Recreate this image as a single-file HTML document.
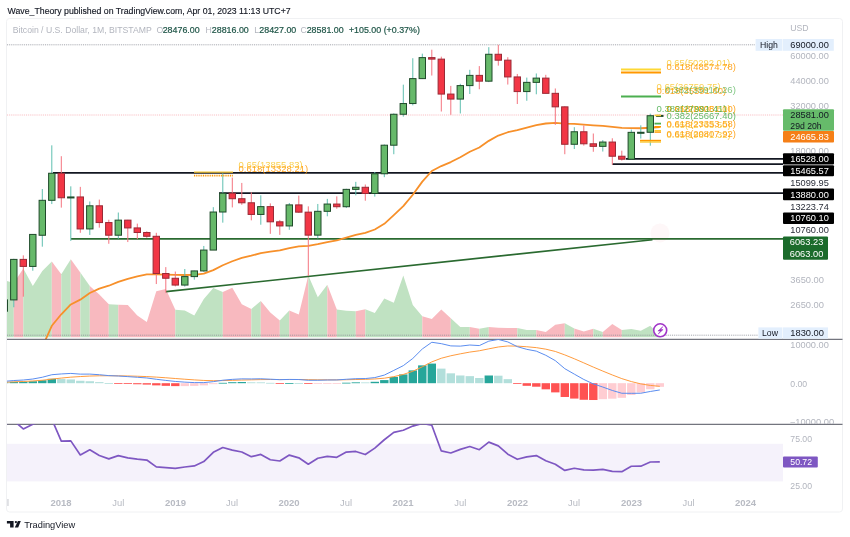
<!DOCTYPE html>
<html><head><meta charset="utf-8"><style>
html,body{margin:0;padding:0;background:#fff;width:850px;height:537px;overflow:hidden}
svg{display:block;will-change:transform}
</style></head><body>
<svg width="850" height="537" viewBox="0 0 850 537" font-family='"Liberation Sans", sans-serif'><rect x="6.5" y="18.5" width="836.0" height="493.5" fill="#fff" stroke="#f0f1f3" stroke-width="1" rx="3"/>
<defs><clipPath id="main"><rect x="7" y="18.5" width="776" height="320.8"/></clipPath><clipPath id="macd"><rect x="7" y="339.3" width="776" height="85.0"/></clipPath><clipPath id="rsi"><rect x="7" y="424.3" width="776" height="71.69999999999999"/></clipPath></defs>
<g clip-path="url(#main)">
<polygon points="4.30,337.3 4.30,280.2 13.80,283.0 13.80,337.3" fill="#c0e2c2"/>
<polygon points="13.80,337.3 13.80,283.0 23.30,268.4 23.30,337.3" fill="#f8b9bf"/>
<polygon points="23.30,337.3 23.30,268.4 32.80,286.0 42.30,271.0 51.80,261.4 51.80,337.3" fill="#c0e2c2"/>
<polygon points="51.80,337.3 51.80,261.4 61.30,274.3 61.30,337.3" fill="#f8b9bf"/>
<polygon points="61.30,337.3 61.30,274.3 70.80,259.2 70.80,337.3" fill="#c0e2c2"/>
<polygon points="70.80,337.3 70.80,259.2 80.30,272.6 80.30,337.3" fill="#f8b9bf"/>
<polygon points="80.30,337.3 80.30,272.6 89.80,286.0 89.80,337.3" fill="#c0e2c2"/>
<polygon points="89.80,337.3 89.80,286.0 99.30,294.4 108.80,304.3 108.80,337.3" fill="#f8b9bf"/>
<polygon points="108.80,337.3 108.80,304.3 118.30,304.8 118.30,337.3" fill="#c0e2c2"/>
<polygon points="118.30,337.3 118.30,304.8 127.80,305.1 137.30,315.4 146.80,321.9 156.30,291.2 165.80,289.0 175.30,309.8 175.30,337.3" fill="#f8b9bf"/>
<polygon points="175.30,337.3 175.30,309.8 184.80,310.4 194.30,315.4 203.80,299.0 213.30,288.0 222.80,292.1 222.80,337.3" fill="#c0e2c2"/>
<polygon points="222.80,337.3 222.80,292.1 232.30,287.8 241.80,304.2 251.30,308.9 251.30,337.3" fill="#f8b9bf"/>
<polygon points="251.30,337.3 251.30,308.9 260.80,301.0 260.80,337.3" fill="#c0e2c2"/>
<polygon points="260.80,337.3 260.80,301.0 270.30,312.6 279.80,320.4 279.80,337.3" fill="#f8b9bf"/>
<polygon points="279.80,337.3 279.80,320.4 289.30,310.4 289.30,337.3" fill="#c0e2c2"/>
<polygon points="289.30,337.3 289.30,310.4 298.80,314.4 308.30,275.4 308.30,337.3" fill="#f8b9bf"/>
<polygon points="308.30,337.3 308.30,275.4 317.80,297.3 327.30,284.7 327.30,337.3" fill="#c0e2c2"/>
<polygon points="327.30,337.3 327.30,284.7 336.80,309.4 336.80,337.3" fill="#f8b9bf"/>
<polygon points="336.80,337.3 336.80,309.4 346.30,310.7 355.80,311.3 355.80,337.3" fill="#c0e2c2"/>
<polygon points="355.80,337.3 355.80,311.3 365.30,309.2 365.30,337.3" fill="#f8b9bf"/>
<polygon points="365.30,337.3 365.30,309.2 374.80,313.0 384.30,298.6 393.80,302.7 403.30,275.4 412.80,305.1 422.30,316.3 422.30,337.3" fill="#c0e2c2"/>
<polygon points="422.30,337.3 422.30,316.3 431.80,319.1 441.30,309.4 450.80,318.2 450.80,337.3" fill="#f8b9bf"/>
<polygon points="450.80,337.3 450.80,318.2 460.30,326.9 469.80,326.9 469.80,337.3" fill="#c0e2c2"/>
<polygon points="469.80,337.3 469.80,326.9 479.30,328.8 479.30,337.3" fill="#f8b9bf"/>
<polygon points="479.30,337.3 479.30,328.8 488.80,326.9 488.80,337.3" fill="#c0e2c2"/>
<polygon points="488.80,337.3 488.80,326.9 498.30,327.8 507.80,328.0 517.30,328.0 517.30,337.3" fill="#f8b9bf"/>
<polygon points="517.30,337.3 517.30,328.0 526.80,330.0 536.30,330.0 536.30,337.3" fill="#c0e2c2"/>
<polygon points="536.30,337.3 536.30,330.0 545.80,332.1 555.30,324.7 564.80,323.2 564.80,337.3" fill="#f8b9bf"/>
<polygon points="564.80,337.3 564.80,323.2 574.30,328.4 574.30,337.3" fill="#c0e2c2"/>
<polygon points="574.30,337.3 574.30,328.4 583.80,331.6 593.30,328.8 593.30,337.3" fill="#f8b9bf"/>
<polygon points="593.30,337.3 593.30,328.8 602.80,332.1 602.80,337.3" fill="#c0e2c2"/>
<polygon points="602.80,337.3 602.80,332.1 612.30,324.0 621.80,330.0 621.80,337.3" fill="#f8b9bf"/>
<polygon points="621.80,337.3 621.80,330.0 631.30,329.1 640.80,330.7 650.30,325.7 659.80,336.0 659.80,337.3" fill="#c0e2c2"/>
</g>
<line x1="7" y1="335.2" x2="758" y2="335.2" stroke="#868993" stroke-width="1" stroke-dasharray="1,0.9" opacity="0.75"/>
<line x1="7" y1="44.8" x2="755" y2="44.8" stroke="#868993" stroke-width="1" stroke-dasharray="1,0.9" opacity="0.75"/>
<line x1="7" y1="44.8" x2="7" y2="44.8" stroke="none"/>
<line x1="7" y1="115" x2="783" y2="115" stroke="#f7a6ac" stroke-width="1" stroke-dasharray="1,0.9" opacity="0.75"/>
<line x1="53" y1="172.8" x2="783" y2="172.8" stroke="#131722" stroke-width="1.7"/>
<line x1="219" y1="193.2" x2="783" y2="193.2" stroke="#131722" stroke-width="1.7"/>
<line x1="626" y1="158.9" x2="783" y2="158.9" stroke="#131722" stroke-width="1.7"/>
<line x1="612.4" y1="164.2" x2="783" y2="164.2" stroke="#131722" stroke-width="1.7"/>
<line x1="71" y1="238.9" x2="783" y2="238.9" stroke="#2a6a30" stroke-width="1.7"/>
<line x1="166" y1="291.6" x2="652.5" y2="239.7" stroke="#2a6a30" stroke-width="1.6"/>
<g clip-path="url(#main)">
<polyline points="4.30,407.96 13.80,392.60 23.30,381.38 32.80,366.35 42.30,347.05 51.80,325.78 61.30,314.26 70.80,304.44 80.30,299.67 89.80,292.96 99.30,288.65 108.80,285.73 118.30,281.84 127.80,278.88 137.30,276.45 146.80,274.43 156.30,274.40 165.80,274.54 175.30,274.93 184.80,275.00 194.30,274.83 203.80,273.70 213.30,270.14 222.80,265.23 232.30,261.26 241.80,257.95 251.30,255.72 260.80,253.10 270.30,251.62 279.80,250.44 289.30,248.07 298.80,246.31 308.30,245.84 317.80,244.17 327.30,242.15 336.80,240.42 346.30,237.67 355.80,234.96 365.30,232.86 374.80,229.51 384.30,223.85 393.80,215.15 403.30,206.16 412.80,194.72 422.30,181.60 431.80,170.98 441.30,166.07 450.80,162.06 460.30,157.20 469.80,151.80 479.30,147.47 488.80,140.84 498.30,135.56 507.80,132.24 517.30,130.19 526.80,127.67 536.30,125.02 545.80,123.51 555.30,122.79 564.80,123.53 574.30,123.84 583.80,124.53 593.30,125.29 602.80,125.88 612.30,126.88 621.80,127.93 631.30,128.10 640.80,128.26 650.30,127.73 659.80,127.20" fill="none" stroke="#f7902a" stroke-width="1.8" stroke-linejoin="round"/>
</g>
<g clip-path="url(#main)">
<line x1="4.30" y1="298.12" x2="4.30" y2="335.55" stroke="#5fbfb0" stroke-width="1"/>
<rect x="1.10" y="299.89" width="6.4" height="11.31" fill="#66b96a" stroke="#1f4a2a" stroke-width="1"/>
<line x1="13.80" y1="258.77" x2="13.80" y2="307.26" stroke="#5fbfb0" stroke-width="1"/>
<rect x="10.60" y="259.40" width="6.4" height="40.50" fill="#66b96a" stroke="#1f4a2a" stroke-width="1"/>
<line x1="23.30" y1="255.36" x2="23.30" y2="296.70" stroke="#f4747f" stroke-width="1"/>
<rect x="20.10" y="259.40" width="6.4" height="7.01" fill="#f23645" stroke="#9a2a36" stroke-width="1"/>
<line x1="32.80" y1="234.39" x2="32.80" y2="270.74" stroke="#5fbfb0" stroke-width="1"/>
<rect x="29.60" y="234.42" width="6.4" height="32.00" fill="#66b96a" stroke="#1f4a2a" stroke-width="1"/>
<line x1="42.30" y1="189.02" x2="42.30" y2="246.68" stroke="#5fbfb0" stroke-width="1"/>
<rect x="39.10" y="200.32" width="6.4" height="34.94" fill="#66b96a" stroke="#1f4a2a" stroke-width="1"/>
<line x1="51.80" y1="145.34" x2="51.80" y2="204.05" stroke="#5fbfb0" stroke-width="1"/>
<rect x="48.60" y="173.25" width="6.4" height="27.07" fill="#66b96a" stroke="#1f4a2a" stroke-width="1"/>
<line x1="61.30" y1="156.19" x2="61.30" y2="207.64" stroke="#f4747f" stroke-width="1"/>
<rect x="58.10" y="173.25" width="6.4" height="24.51" fill="#f23645" stroke="#9a2a36" stroke-width="1"/>
<line x1="70.80" y1="186.34" x2="70.80" y2="240.86" stroke="#5fbfb0" stroke-width="1"/>
<rect x="67.60" y="196.95" width="6.4" height="1.00" fill="#66b96a" stroke="#1f4a2a" stroke-width="1"/>
<line x1="80.30" y1="186.87" x2="80.30" y2="232.80" stroke="#f4747f" stroke-width="1"/>
<rect x="77.10" y="196.95" width="6.4" height="32.00" fill="#f23645" stroke="#9a2a36" stroke-width="1"/>
<line x1="89.80" y1="201.47" x2="89.80" y2="234.95" stroke="#5fbfb0" stroke-width="1"/>
<rect x="86.60" y="205.80" width="6.4" height="23.14" fill="#66b96a" stroke="#1f4a2a" stroke-width="1"/>
<line x1="99.30" y1="199.60" x2="99.30" y2="227.67" stroke="#f4747f" stroke-width="1"/>
<rect x="96.10" y="205.80" width="6.4" height="16.76" fill="#f23645" stroke="#9a2a36" stroke-width="1"/>
<line x1="108.80" y1="219.73" x2="108.80" y2="243.77" stroke="#f4747f" stroke-width="1"/>
<rect x="105.60" y="222.56" width="6.4" height="12.65" fill="#f23645" stroke="#9a2a36" stroke-width="1"/>
<line x1="118.30" y1="212.53" x2="118.30" y2="238.72" stroke="#5fbfb0" stroke-width="1"/>
<rect x="115.10" y="220.14" width="6.4" height="15.07" fill="#66b96a" stroke="#1f4a2a" stroke-width="1"/>
<line x1="127.80" y1="219.83" x2="127.80" y2="242.05" stroke="#f4747f" stroke-width="1"/>
<rect x="124.60" y="220.14" width="6.4" height="7.79" fill="#f23645" stroke="#9a2a36" stroke-width="1"/>
<line x1="137.30" y1="223.63" x2="137.30" y2="239.11" stroke="#f4747f" stroke-width="1"/>
<rect x="134.10" y="227.92" width="6.4" height="4.57" fill="#f23645" stroke="#9a2a36" stroke-width="1"/>
<line x1="146.80" y1="231.35" x2="146.80" y2="237.81" stroke="#f4747f" stroke-width="1"/>
<rect x="143.60" y="232.49" width="6.4" height="3.80" fill="#f23645" stroke="#9a2a36" stroke-width="1"/>
<line x1="156.30" y1="232.80" x2="156.30" y2="284.06" stroke="#f4747f" stroke-width="1"/>
<rect x="153.10" y="236.30" width="6.4" height="37.22" fill="#f23645" stroke="#9a2a36" stroke-width="1"/>
<line x1="165.80" y1="267.12" x2="165.80" y2="292.76" stroke="#f4747f" stroke-width="1"/>
<rect x="162.60" y="273.51" width="6.4" height="4.74" fill="#f23645" stroke="#9a2a36" stroke-width="1"/>
<line x1="175.30" y1="271.54" x2="175.30" y2="286.40" stroke="#f4747f" stroke-width="1"/>
<rect x="172.10" y="278.25" width="6.4" height="6.81" fill="#f23645" stroke="#9a2a36" stroke-width="1"/>
<line x1="184.80" y1="269.00" x2="184.80" y2="286.59" stroke="#5fbfb0" stroke-width="1"/>
<rect x="181.60" y="276.60" width="6.4" height="8.46" fill="#66b96a" stroke="#1f4a2a" stroke-width="1"/>
<line x1="194.30" y1="270.64" x2="194.30" y2="279.65" stroke="#5fbfb0" stroke-width="1"/>
<rect x="191.10" y="270.93" width="6.4" height="5.67" fill="#66b96a" stroke="#1f4a2a" stroke-width="1"/>
<line x1="203.80" y1="245.96" x2="203.80" y2="271.91" stroke="#5fbfb0" stroke-width="1"/>
<rect x="200.60" y="250.07" width="6.4" height="20.86" fill="#66b96a" stroke="#1f4a2a" stroke-width="1"/>
<line x1="213.30" y1="207.16" x2="213.30" y2="249.92" stroke="#5fbfb0" stroke-width="1"/>
<rect x="210.10" y="212.02" width="6.4" height="38.05" fill="#66b96a" stroke="#1f4a2a" stroke-width="1"/>
<line x1="222.80" y1="173.25" x2="222.80" y2="222.67" stroke="#5fbfb0" stroke-width="1"/>
<rect x="219.60" y="193.20" width="6.4" height="18.81" fill="#66b96a" stroke="#1f4a2a" stroke-width="1"/>
<line x1="232.30" y1="177.58" x2="232.30" y2="207.42" stroke="#f4747f" stroke-width="1"/>
<rect x="229.10" y="193.20" width="6.4" height="5.52" fill="#f23645" stroke="#9a2a36" stroke-width="1"/>
<line x1="241.80" y1="182.93" x2="241.80" y2="204.81" stroke="#f4747f" stroke-width="1"/>
<rect x="238.60" y="198.72" width="6.4" height="4.07" fill="#f23645" stroke="#9a2a36" stroke-width="1"/>
<line x1="251.30" y1="192.25" x2="251.30" y2="220.35" stroke="#f4747f" stroke-width="1"/>
<rect x="248.10" y="202.78" width="6.4" height="11.66" fill="#f23645" stroke="#9a2a36" stroke-width="1"/>
<line x1="260.80" y1="195.30" x2="260.80" y2="224.72" stroke="#5fbfb0" stroke-width="1"/>
<rect x="257.60" y="206.63" width="6.4" height="7.81" fill="#66b96a" stroke="#1f4a2a" stroke-width="1"/>
<line x1="270.30" y1="203.37" x2="270.30" y2="233.84" stroke="#f4747f" stroke-width="1"/>
<rect x="267.10" y="206.63" width="6.4" height="15.18" fill="#f23645" stroke="#9a2a36" stroke-width="1"/>
<line x1="279.80" y1="219.93" x2="279.80" y2="234.89" stroke="#f4747f" stroke-width="1"/>
<rect x="276.60" y="221.81" width="6.4" height="4.13" fill="#f23645" stroke="#9a2a36" stroke-width="1"/>
<line x1="289.30" y1="202.99" x2="289.30" y2="229.82" stroke="#5fbfb0" stroke-width="1"/>
<rect x="286.10" y="204.90" width="6.4" height="21.04" fill="#66b96a" stroke="#1f4a2a" stroke-width="1"/>
<line x1="298.80" y1="195.61" x2="298.80" y2="212.91" stroke="#f4747f" stroke-width="1"/>
<rect x="295.60" y="204.90" width="6.4" height="7.26" fill="#f23645" stroke="#9a2a36" stroke-width="1"/>
<line x1="308.30" y1="206.37" x2="308.30" y2="275.97" stroke="#f4747f" stroke-width="1"/>
<rect x="305.10" y="212.16" width="6.4" height="22.98" fill="#f23645" stroke="#9a2a36" stroke-width="1"/>
<line x1="317.80" y1="203.96" x2="317.80" y2="238.45" stroke="#5fbfb0" stroke-width="1"/>
<rect x="314.60" y="211.32" width="6.4" height="23.82" fill="#66b96a" stroke="#1f4a2a" stroke-width="1"/>
<line x1="327.30" y1="198.88" x2="327.30" y2="216.29" stroke="#5fbfb0" stroke-width="1"/>
<rect x="324.10" y="204.05" width="6.4" height="7.27" fill="#66b96a" stroke="#1f4a2a" stroke-width="1"/>
<line x1="336.80" y1="196.37" x2="336.80" y2="208.76" stroke="#f4747f" stroke-width="1"/>
<rect x="333.60" y="204.05" width="6.4" height="2.67" fill="#f23645" stroke="#9a2a36" stroke-width="1"/>
<line x1="346.30" y1="188.74" x2="346.30" y2="208.04" stroke="#5fbfb0" stroke-width="1"/>
<rect x="343.10" y="189.37" width="6.4" height="17.35" fill="#66b96a" stroke="#1f4a2a" stroke-width="1"/>
<line x1="355.80" y1="181.83" x2="355.80" y2="195.38" stroke="#5fbfb0" stroke-width="1"/>
<rect x="352.60" y="187.28" width="6.4" height="2.09" fill="#66b96a" stroke="#1f4a2a" stroke-width="1"/>
<line x1="365.30" y1="184.51" x2="365.30" y2="200.73" stroke="#f4747f" stroke-width="1"/>
<rect x="362.10" y="187.28" width="6.4" height="6.22" fill="#f23645" stroke="#9a2a36" stroke-width="1"/>
<line x1="374.80" y1="171.99" x2="374.80" y2="196.60" stroke="#5fbfb0" stroke-width="1"/>
<rect x="371.60" y="173.77" width="6.4" height="19.72" fill="#66b96a" stroke="#1f4a2a" stroke-width="1"/>
<line x1="384.30" y1="144.48" x2="384.30" y2="177.16" stroke="#5fbfb0" stroke-width="1"/>
<rect x="381.10" y="145.20" width="6.4" height="28.57" fill="#66b96a" stroke="#1f4a2a" stroke-width="1"/>
<line x1="393.80" y1="113.41" x2="393.80" y2="154.23" stroke="#5fbfb0" stroke-width="1"/>
<rect x="390.60" y="114.26" width="6.4" height="30.95" fill="#66b96a" stroke="#1f4a2a" stroke-width="1"/>
<line x1="403.30" y1="84.66" x2="403.30" y2="116.67" stroke="#5fbfb0" stroke-width="1"/>
<rect x="400.10" y="103.54" width="6.4" height="10.72" fill="#66b96a" stroke="#1f4a2a" stroke-width="1"/>
<line x1="412.80" y1="58.23" x2="412.80" y2="105.40" stroke="#5fbfb0" stroke-width="1"/>
<rect x="409.60" y="78.61" width="6.4" height="24.93" fill="#66b96a" stroke="#1f4a2a" stroke-width="1"/>
<line x1="422.30" y1="53.65" x2="422.30" y2="79.04" stroke="#5fbfb0" stroke-width="1"/>
<rect x="419.10" y="57.61" width="6.4" height="21.00" fill="#66b96a" stroke="#1f4a2a" stroke-width="1"/>
<line x1="431.80" y1="49.71" x2="431.80" y2="75.56" stroke="#f4747f" stroke-width="1"/>
<rect x="428.60" y="57.61" width="6.4" height="1.51" fill="#f23645" stroke="#9a2a36" stroke-width="1"/>
<line x1="441.30" y1="56.67" x2="441.30" y2="111.52" stroke="#f4747f" stroke-width="1"/>
<rect x="438.10" y="59.13" width="6.4" height="34.94" fill="#f23645" stroke="#9a2a36" stroke-width="1"/>
<line x1="450.80" y1="85.91" x2="450.80" y2="114.79" stroke="#f4747f" stroke-width="1"/>
<rect x="447.60" y="94.07" width="6.4" height="5.01" fill="#f23645" stroke="#9a2a36" stroke-width="1"/>
<line x1="460.30" y1="83.81" x2="460.30" y2="113.46" stroke="#5fbfb0" stroke-width="1"/>
<rect x="457.10" y="85.60" width="6.4" height="13.48" fill="#66b96a" stroke="#1f4a2a" stroke-width="1"/>
<line x1="469.80" y1="69.80" x2="469.80" y2="94.01" stroke="#5fbfb0" stroke-width="1"/>
<rect x="466.60" y="75.38" width="6.4" height="10.22" fill="#66b96a" stroke="#1f4a2a" stroke-width="1"/>
<line x1="479.30" y1="66.08" x2="479.30" y2="89.28" stroke="#f4747f" stroke-width="1"/>
<rect x="476.10" y="75.38" width="6.4" height="5.78" fill="#f23645" stroke="#9a2a36" stroke-width="1"/>
<line x1="488.80" y1="47.16" x2="488.80" y2="82.12" stroke="#5fbfb0" stroke-width="1"/>
<rect x="485.60" y="54.28" width="6.4" height="26.89" fill="#66b96a" stroke="#1f4a2a" stroke-width="1"/>
<line x1="498.30" y1="44.80" x2="498.30" y2="65.63" stroke="#f4747f" stroke-width="1"/>
<rect x="495.10" y="54.28" width="6.4" height="5.90" fill="#f23645" stroke="#9a2a36" stroke-width="1"/>
<line x1="507.80" y1="57.21" x2="507.80" y2="84.56" stroke="#f4747f" stroke-width="1"/>
<rect x="504.60" y="60.17" width="6.4" height="16.76" fill="#f23645" stroke="#9a2a36" stroke-width="1"/>
<line x1="517.30" y1="73.94" x2="517.30" y2="104.00" stroke="#f4747f" stroke-width="1"/>
<rect x="514.10" y="76.93" width="6.4" height="14.65" fill="#f23645" stroke="#9a2a36" stroke-width="1"/>
<line x1="526.80" y1="77.59" x2="526.80" y2="100.79" stroke="#5fbfb0" stroke-width="1"/>
<rect x="523.60" y="82.36" width="6.4" height="9.21" fill="#66b96a" stroke="#1f4a2a" stroke-width="1"/>
<line x1="536.30" y1="73.47" x2="536.30" y2="94.29" stroke="#5fbfb0" stroke-width="1"/>
<rect x="533.10" y="78.12" width="6.4" height="4.25" fill="#66b96a" stroke="#1f4a2a" stroke-width="1"/>
<line x1="545.80" y1="74.81" x2="545.80" y2="93.22" stroke="#f4747f" stroke-width="1"/>
<rect x="542.60" y="78.12" width="6.4" height="15.23" fill="#f23645" stroke="#9a2a36" stroke-width="1"/>
<line x1="555.30" y1="88.47" x2="555.30" y2="124.85" stroke="#f4747f" stroke-width="1"/>
<rect x="552.10" y="93.34" width="6.4" height="13.50" fill="#f23645" stroke="#9a2a36" stroke-width="1"/>
<line x1="564.80" y1="106.35" x2="564.80" y2="154.23" stroke="#f4747f" stroke-width="1"/>
<rect x="561.60" y="106.85" width="6.4" height="37.43" fill="#f23645" stroke="#9a2a36" stroke-width="1"/>
<line x1="574.30" y1="127.18" x2="574.30" y2="149.04" stroke="#5fbfb0" stroke-width="1"/>
<rect x="571.10" y="131.76" width="6.4" height="12.51" fill="#66b96a" stroke="#1f4a2a" stroke-width="1"/>
<line x1="583.80" y1="125.48" x2="583.80" y2="145.61" stroke="#f4747f" stroke-width="1"/>
<rect x="580.60" y="131.76" width="6.4" height="12.03" fill="#f23645" stroke="#9a2a36" stroke-width="1"/>
<line x1="593.30" y1="133.50" x2="593.30" y2="151.77" stroke="#f4747f" stroke-width="1"/>
<rect x="590.10" y="143.79" width="6.4" height="2.56" fill="#f23645" stroke="#9a2a36" stroke-width="1"/>
<line x1="602.80" y1="140.12" x2="602.80" y2="151.55" stroke="#5fbfb0" stroke-width="1"/>
<rect x="599.60" y="142.05" width="6.4" height="4.30" fill="#66b96a" stroke="#1f4a2a" stroke-width="1"/>
<line x1="612.30" y1="138.28" x2="612.30" y2="164.62" stroke="#f4747f" stroke-width="1"/>
<rect x="609.10" y="142.05" width="6.4" height="14.18" fill="#f23645" stroke="#9a2a36" stroke-width="1"/>
<line x1="621.80" y1="150.67" x2="621.80" y2="160.58" stroke="#f4747f" stroke-width="1"/>
<rect x="618.60" y="156.24" width="6.4" height="2.97" fill="#f23645" stroke="#9a2a36" stroke-width="1"/>
<line x1="631.30" y1="129.56" x2="631.30" y2="159.40" stroke="#5fbfb0" stroke-width="1"/>
<rect x="628.10" y="132.35" width="6.4" height="26.86" fill="#66b96a" stroke="#1f4a2a" stroke-width="1"/>
<line x1="640.80" y1="125.32" x2="640.80" y2="138.57" stroke="#5fbfb0" stroke-width="1"/>
<rect x="637.60" y="132.28" width="6.4" height="1.00" fill="#66b96a" stroke="#1f4a2a" stroke-width="1"/>
<line x1="650.30" y1="113.68" x2="650.30" y2="145.73" stroke="#5fbfb0" stroke-width="1"/>
<rect x="647.10" y="115.71" width="6.4" height="16.57" fill="#66b96a" stroke="#1f4a2a" stroke-width="1"/>
<line x1="659.80" y1="114.74" x2="659.80" y2="115.83" stroke="#5fbfb0" stroke-width="1"/>
<rect x="656.60" y="115.40" width="6.4" height="1.00" fill="#66b96a" stroke="#1f4a2a" stroke-width="1"/>
</g>
<line x1="194" y1="172.1" x2="233" y2="172.1" stroke="#f9c934" stroke-width="1.2"/>
<line x1="194" y1="175.6" x2="233" y2="175.6" stroke="#ff9800" stroke-width="1.6" stroke-dasharray="1,0.8"/>
<text x="238.50" y="167.60" font-size="9.3" fill="#f9c934" text-anchor="start" font-weight="normal" textLength="64.2" lengthAdjust="spacingAndGlyphs" opacity="0.85">0.65(13855.83)</text>
<text x="238.50" y="172.20" font-size="9.3" fill="#ff9800" text-anchor="start" font-weight="normal" textLength="69.7" lengthAdjust="spacingAndGlyphs" opacity="0.85">0.618(13328.21)</text>
<line x1="621" y1="69.5" x2="661" y2="69.5" stroke="#fdd835" stroke-width="2"/>
<line x1="621" y1="72.6" x2="661" y2="72.6" stroke="#ff9800" stroke-width="2"/>
<text x="666.50" y="65.60" font-size="9.3" fill="#f9c934" text-anchor="start" font-weight="normal" textLength="63.7" lengthAdjust="spacingAndGlyphs" opacity="0.85">0.65(50292.01)</text>
<text x="666.50" y="69.70" font-size="9.3" fill="#ff9800" text-anchor="start" font-weight="normal" textLength="69.4" lengthAdjust="spacingAndGlyphs" opacity="0.85">0.618(48574.78)</text>
<line x1="621" y1="96.5" x2="661" y2="96.5" stroke="#4caf50" stroke-width="2"/>
<text x="656.50" y="89.80" font-size="9.3" fill="#f9c934" text-anchor="start" font-weight="normal" textLength="64.2" lengthAdjust="spacingAndGlyphs" opacity="0.85">0.65(36759.75)</text>
<text x="656.50" y="93.80" font-size="9.3" fill="#ff9800" text-anchor="start" font-weight="normal" textLength="69.7" lengthAdjust="spacingAndGlyphs" opacity="0.85">0.618(35591.60)</text>
<text x="665.30" y="93.30" font-size="9.3" fill="#4caf50" text-anchor="start" font-weight="normal" textLength="70.60000000000001" lengthAdjust="spacingAndGlyphs" opacity="0.7">0.382(35910.26)</text>
<text x="666.50" y="112.40" font-size="9.3" fill="#f9c934" text-anchor="start" font-weight="normal" textLength="64.2" lengthAdjust="spacingAndGlyphs" opacity="0.85">0.65(28325.50)</text>
<text x="666.50" y="112.40" font-size="9.3" fill="#ff9800" text-anchor="start" font-weight="normal" textLength="69.4" lengthAdjust="spacingAndGlyphs" opacity="0.85">0.618(28081.10)</text>
<text x="656.50" y="112.40" font-size="9.3" fill="#4caf50" text-anchor="start" font-weight="normal" textLength="70.0" lengthAdjust="spacingAndGlyphs" opacity="0.85">0.382(27991.41)</text>
<text x="666.50" y="119.40" font-size="9.3" fill="#4caf50" text-anchor="start" font-weight="normal" textLength="69.4" lengthAdjust="spacingAndGlyphs" opacity="0.85">0.382(25667.40)</text>
<text x="666.50" y="128.20" font-size="9.3" fill="#f9c934" text-anchor="start" font-weight="normal" textLength="64.2" lengthAdjust="spacingAndGlyphs" opacity="0.85">0.65(22763.50)</text>
<text x="666.50" y="127.30" font-size="9.3" fill="#ff9800" text-anchor="start" font-weight="normal" textLength="69.4" lengthAdjust="spacingAndGlyphs" opacity="0.85">0.618(23353.58)</text>
<text x="666.50" y="138.20" font-size="9.3" fill="#f9c934" text-anchor="start" font-weight="normal" textLength="64.2" lengthAdjust="spacingAndGlyphs" opacity="0.85">0.65(19841.32)</text>
<text x="666.50" y="136.50" font-size="9.3" fill="#ff9800" text-anchor="start" font-weight="normal" textLength="69.4" lengthAdjust="spacingAndGlyphs" opacity="0.85">0.618(20807.92)</text>
<line x1="654.5" y1="115.4" x2="661" y2="115.4" stroke="#f9c934" stroke-width="1.6"/>
<line x1="654.5" y1="123.6" x2="661" y2="123.6" stroke="#4caf50" stroke-width="1.8"/>
<line x1="654.5" y1="126.8" x2="661" y2="126.8" stroke="#ff9800" stroke-width="1.6"/>
<line x1="654.5" y1="130.8" x2="661" y2="130.8" stroke="#f9c934" stroke-width="1.6"/>
<line x1="654.5" y1="132.2" x2="661" y2="132.2" stroke="#ff9800" stroke-width="1.2"/>
<line x1="640" y1="140.6" x2="661" y2="140.6" stroke="#ff9800" stroke-width="1.6"/>
<line x1="640" y1="142.0" x2="661" y2="142.0" stroke="#f9c934" stroke-width="1.4"/>
<circle cx="660" cy="232.9" r="9.5" fill="#f23645" opacity="0.04"/>
<circle cx="660.2" cy="330.3" r="6.5" fill="#fff" stroke="#a136c8" stroke-width="1.6"/>
<path d="M662.9,326.6 L657.9,331.0 L660.5,331.0 L658.2,334.1 L663.1,329.6 L660.6,329.6 Z" fill="#9a2fc4" stroke="#9a2fc4" stroke-width="0.5" stroke-linejoin="round"/>
<line x1="7" y1="339.3" x2="842.5" y2="339.3" stroke="#50535e" stroke-width="1"/>
<line x1="7" y1="424.3" x2="842.5" y2="424.3" stroke="#50535e" stroke-width="1"/>
<g clip-path="url(#macd)">
<rect x="0.10" y="382.37" width="8.4" height="0.83" fill="#26a69a"/>
<rect x="9.60" y="381.88" width="8.4" height="1.32" fill="#26a69a"/>
<rect x="19.10" y="381.74" width="8.4" height="1.46" fill="#26a69a"/>
<rect x="28.60" y="381.24" width="8.4" height="1.96" fill="#26a69a"/>
<rect x="38.10" y="380.21" width="8.4" height="2.99" fill="#26a69a"/>
<rect x="47.60" y="378.78" width="8.4" height="4.42" fill="#26a69a"/>
<rect x="57.10" y="379.05" width="8.4" height="4.15" fill="#b2dfdb"/>
<rect x="66.60" y="379.45" width="8.4" height="3.75" fill="#b2dfdb"/>
<rect x="76.10" y="380.78" width="8.4" height="2.42" fill="#b2dfdb"/>
<rect x="85.60" y="381.24" width="8.4" height="1.96" fill="#b2dfdb"/>
<rect x="95.10" y="382.12" width="8.4" height="1.08" fill="#b2dfdb"/>
<rect x="104.60" y="383.06" width="8.4" height="0.80" fill="#b2dfdb"/>
<rect x="114.10" y="383.20" width="8.4" height="0.80" fill="#ff5252"/>
<rect x="123.60" y="383.20" width="8.4" height="0.80" fill="#ff5252"/>
<rect x="133.10" y="383.20" width="8.4" height="1.05" fill="#ff5252"/>
<rect x="142.60" y="383.20" width="8.4" height="1.39" fill="#ff5252"/>
<rect x="152.10" y="383.20" width="8.4" height="2.16" fill="#ff5252"/>
<rect x="161.60" y="383.20" width="8.4" height="2.64" fill="#ff5252"/>
<rect x="171.10" y="383.20" width="8.4" height="2.92" fill="#ff5252"/>
<rect x="180.60" y="383.20" width="8.4" height="2.90" fill="#ffcdd2"/>
<rect x="190.10" y="383.20" width="8.4" height="2.70" fill="#ffcdd2"/>
<rect x="199.60" y="383.20" width="8.4" height="2.17" fill="#ffcdd2"/>
<rect x="209.10" y="383.20" width="8.4" height="0.96" fill="#ffcdd2"/>
<rect x="218.60" y="382.83" width="8.4" height="0.80" fill="#26a69a"/>
<rect x="228.10" y="382.21" width="8.4" height="0.99" fill="#26a69a"/>
<rect x="237.60" y="382.02" width="8.4" height="1.18" fill="#26a69a"/>
<rect x="247.10" y="382.31" width="8.4" height="0.89" fill="#b2dfdb"/>
<rect x="256.60" y="382.36" width="8.4" height="0.84" fill="#b2dfdb"/>
<rect x="266.10" y="382.85" width="8.4" height="0.80" fill="#b2dfdb"/>
<rect x="275.60" y="383.20" width="8.4" height="0.80" fill="#ff5252"/>
<rect x="285.10" y="383.09" width="8.4" height="0.80" fill="#26a69a"/>
<rect x="294.60" y="383.20" width="8.4" height="0.80" fill="#b2dfdb"/>
<rect x="304.10" y="383.20" width="8.4" height="0.80" fill="#ff5252"/>
<rect x="313.60" y="383.20" width="8.4" height="0.80" fill="#ffcdd2"/>
<rect x="323.10" y="383.20" width="8.4" height="0.80" fill="#ffcdd2"/>
<rect x="332.60" y="383.20" width="8.4" height="0.80" fill="#ffcdd2"/>
<rect x="342.10" y="382.72" width="8.4" height="0.80" fill="#26a69a"/>
<rect x="351.60" y="382.35" width="8.4" height="0.85" fill="#26a69a"/>
<rect x="361.10" y="382.41" width="8.4" height="0.80" fill="#b2dfdb"/>
<rect x="370.60" y="381.79" width="8.4" height="1.41" fill="#26a69a"/>
<rect x="380.10" y="380.09" width="8.4" height="3.11" fill="#26a69a"/>
<rect x="389.60" y="376.97" width="8.4" height="6.23" fill="#26a69a"/>
<rect x="399.10" y="374.40" width="8.4" height="8.80" fill="#26a69a"/>
<rect x="408.60" y="370.39" width="8.4" height="12.81" fill="#26a69a"/>
<rect x="418.10" y="365.38" width="8.4" height="17.82" fill="#26a69a"/>
<rect x="427.60" y="363.58" width="8.4" height="19.62" fill="#26a69a"/>
<rect x="437.10" y="368.63" width="8.4" height="14.57" fill="#b2dfdb"/>
<rect x="446.60" y="373.33" width="8.4" height="9.87" fill="#b2dfdb"/>
<rect x="456.10" y="375.48" width="8.4" height="7.72" fill="#b2dfdb"/>
<rect x="465.60" y="376.14" width="8.4" height="7.06" fill="#b2dfdb"/>
<rect x="475.10" y="378.00" width="8.4" height="5.20" fill="#b2dfdb"/>
<rect x="484.60" y="375.50" width="8.4" height="7.70" fill="#26a69a"/>
<rect x="494.10" y="375.70" width="8.4" height="7.50" fill="#b2dfdb"/>
<rect x="503.60" y="379.16" width="8.4" height="4.04" fill="#b2dfdb"/>
<rect x="513.10" y="383.20" width="8.4" height="0.80" fill="#ff5252"/>
<rect x="522.60" y="383.20" width="8.4" height="2.60" fill="#ff5252"/>
<rect x="532.10" y="383.20" width="8.4" height="3.51" fill="#ff5252"/>
<rect x="541.60" y="383.20" width="8.4" height="6.13" fill="#ff5252"/>
<rect x="551.10" y="383.20" width="8.4" height="9.18" fill="#ff5252"/>
<rect x="560.60" y="383.20" width="8.4" height="13.78" fill="#ff5252"/>
<rect x="570.10" y="383.20" width="8.4" height="15.38" fill="#ff5252"/>
<rect x="579.60" y="383.20" width="8.4" height="16.58" fill="#ff5252"/>
<rect x="589.10" y="383.20" width="8.4" height="16.81" fill="#ff5252"/>
<rect x="598.60" y="383.20" width="8.4" height="15.96" fill="#ffcdd2"/>
<rect x="608.10" y="383.20" width="8.4" height="15.50" fill="#ffcdd2"/>
<rect x="617.60" y="383.20" width="8.4" height="14.63" fill="#ffcdd2"/>
<rect x="627.10" y="383.20" width="8.4" height="11.76" fill="#ffcdd2"/>
<rect x="636.60" y="383.20" width="8.4" height="9.36" fill="#ffcdd2"/>
<rect x="646.10" y="383.20" width="8.4" height="6.06" fill="#ffcdd2"/>
<rect x="655.60" y="383.20" width="8.4" height="3.63" fill="#ffcdd2"/>
<polyline points="4.30,382.17 13.80,381.84 23.30,381.47 32.80,380.98 42.30,380.24 51.80,379.13 61.30,378.09 70.80,377.16 80.30,376.55 89.80,376.06 99.30,375.79 108.80,375.75 118.30,375.80 127.80,375.97 137.30,376.23 146.80,376.58 156.30,377.11 165.80,377.77 175.30,378.50 184.80,379.23 194.30,379.90 203.80,380.45 213.30,380.69 222.80,380.59 232.30,380.35 241.80,380.05 251.30,379.83 260.80,379.62 270.30,379.53 279.80,379.56 289.30,379.53 298.80,379.53 308.30,379.68 317.80,379.80 327.30,379.84 336.80,379.86 346.30,379.74 355.80,379.53 365.30,379.33 374.80,378.98 384.30,378.20 393.80,376.65 403.30,374.45 412.80,371.25 422.30,366.79 431.80,361.88 441.30,358.24 450.80,355.77 460.30,353.84 469.80,352.08 479.30,350.78 488.80,348.85 498.30,346.98 507.80,345.97 517.30,346.11 526.80,346.75 536.30,347.63 545.80,349.16 555.30,351.46 564.80,354.90 574.30,358.75 583.80,362.89 593.30,367.09 602.80,371.08 612.30,374.96 621.80,378.62 631.30,381.56 640.80,383.90 650.30,385.41 659.80,386.32" fill="none" stroke="#ff9b3e" stroke-width="1"/>
<polyline points="4.30,381.34 13.80,380.52 23.30,380.02 32.80,379.02 42.30,377.25 51.80,374.72 61.30,373.94 70.80,373.41 80.30,374.13 89.80,374.10 99.30,374.71 108.80,375.61 118.30,376.00 127.80,376.61 137.30,377.28 146.80,377.96 156.30,379.27 165.80,380.41 175.30,381.43 184.80,382.13 194.30,382.60 203.80,382.61 213.30,381.65 222.80,380.22 232.30,379.36 241.80,378.87 251.30,378.94 260.80,378.78 270.30,379.19 279.80,379.67 289.30,379.43 298.80,379.53 308.30,380.29 317.80,380.25 327.30,380.01 336.80,379.95 346.30,379.27 355.80,378.69 365.30,378.55 374.80,377.58 384.30,375.09 393.80,370.42 403.30,365.65 412.80,358.44 422.30,348.97 431.80,342.27 441.30,343.67 450.80,345.90 460.30,346.13 469.80,345.02 479.30,345.58 488.80,341.15 498.30,339.48 507.80,341.93 517.30,346.65 526.80,349.35 536.30,351.14 545.80,355.29 555.30,360.64 564.80,368.68 574.30,374.12 583.80,379.48 593.30,383.90 602.80,387.04 612.30,390.46 621.80,393.25 631.30,393.32 640.80,393.26 650.30,391.48 659.80,389.96" fill="none" stroke="#5b8def" stroke-width="1"/>
</g>
<rect x="7" y="443.80" width="776" height="37.60" fill="#f5f2fb"/>
<g clip-path="url(#rsi)">
<polyline points="4.30,424.86 13.80,420.66 23.30,428.97 32.80,424.29 42.30,421.00 51.80,419.27 61.30,441.04 70.80,440.86 80.30,454.95 89.80,449.80 99.30,455.53 108.80,458.83 118.30,455.65 127.80,457.86 137.30,459.07 146.80,460.06 156.30,466.92 165.80,467.53 175.30,468.38 184.80,466.98 194.30,465.93 203.80,461.52 213.30,452.33 222.80,447.51 232.30,450.18 241.80,452.03 251.30,456.65 260.80,454.45 270.30,459.78 279.80,461.00 289.30,455.09 298.80,457.81 308.30,464.22 317.80,458.29 327.30,456.32 336.80,457.30 346.30,452.12 355.80,451.47 365.30,454.54 374.80,448.13 384.30,439.74 393.80,432.40 403.30,430.26 412.80,426.07 422.30,423.38 431.80,425.27 441.30,450.95 450.80,453.01 460.30,449.39 469.80,446.55 479.30,449.70 488.80,442.10 498.30,445.90 507.80,454.21 517.30,459.28 526.80,456.81 536.30,455.59 545.80,460.81 555.30,464.30 564.80,470.44 574.30,468.26 583.80,469.90 593.30,470.22 602.80,469.42 612.30,471.31 621.80,471.67 631.30,466.23 640.80,466.22 650.30,462.00 659.80,461.92" fill="none" stroke="#7e57c2" stroke-width="1.7" stroke-linejoin="round"/>
</g>
<text x="7.60" y="13.80" font-size="8.9" fill="#131722" text-anchor="start" font-weight="normal" textLength="283" lengthAdjust="spacingAndGlyphs" stroke="#131722" stroke-width="0.15">Wave_Theory published on TradingView.com, Apr 01, 2023 11:13 UTC+7</text>
<text x="12.70" y="33.00" font-size="8.7" fill="#b2b5be" text-anchor="start" font-weight="normal" textLength="139" lengthAdjust="spacingAndGlyphs" >Bitcoin / U.S. Dollar, 1M, BITSTAMP</text>
<text x="156.40" y="33.00" font-size="8.7" fill="#b2b5be" text-anchor="start" font-weight="normal" >O</text>
<text x="162.70" y="33.00" font-size="9.0" fill="#1d5446" text-anchor="start" font-weight="normal" textLength="37" lengthAdjust="spacingAndGlyphs" stroke="#1d5446" stroke-width="0.2">28476.00</text>
<text x="205.50" y="33.00" font-size="8.7" fill="#b2b5be" text-anchor="start" font-weight="normal" >H</text>
<text x="211.80" y="33.00" font-size="9.0" fill="#1d5446" text-anchor="start" font-weight="normal" textLength="37" lengthAdjust="spacingAndGlyphs" stroke="#1d5446" stroke-width="0.2">28816.00</text>
<text x="254.30" y="33.00" font-size="8.7" fill="#b2b5be" text-anchor="start" font-weight="normal" >L</text>
<text x="259.30" y="33.00" font-size="9.0" fill="#1d5446" text-anchor="start" font-weight="normal" textLength="37" lengthAdjust="spacingAndGlyphs" stroke="#1d5446" stroke-width="0.2">28427.00</text>
<text x="300.40" y="33.00" font-size="8.7" fill="#b2b5be" text-anchor="start" font-weight="normal" >C</text>
<text x="306.70" y="33.00" font-size="9.0" fill="#1d5446" text-anchor="start" font-weight="normal" textLength="37" lengthAdjust="spacingAndGlyphs" stroke="#1d5446" stroke-width="0.2">28581.00</text>
<text x="348.90" y="33.00" font-size="9.0" fill="#1d5446" text-anchor="start" font-weight="normal" textLength="71" lengthAdjust="spacingAndGlyphs" stroke="#1d5446" stroke-width="0.2">+105.00 (+0.37%)</text>
<text x="790.30" y="31.30" font-size="8.7" fill="#b2b5be" text-anchor="start" font-weight="normal" >USD</text>
<rect x="755.6" y="39" width="26.5" height="11.8" fill="#e3effd"/>
<rect x="782.6" y="39" width="51.2" height="11.8" fill="#e3effd"/>
<text x="760.00" y="48.10" font-size="8.7" fill="#131722" text-anchor="start" font-weight="normal" >High</text>
<text x="790.30" y="48.10" font-size="8.7" fill="#131722" text-anchor="start" font-weight="normal" textLength="38.5" lengthAdjust="spacingAndGlyphs" >69000.00</text>
<text x="790.30" y="59.10" font-size="8.7" fill="#b2b5be" text-anchor="start" font-weight="normal" textLength="38.5" lengthAdjust="spacingAndGlyphs" >60000.00</text>
<text x="790.30" y="83.90" font-size="8.7" fill="#b2b5be" text-anchor="start" font-weight="normal" textLength="38.5" lengthAdjust="spacingAndGlyphs" >44000.00</text>
<text x="790.30" y="108.90" font-size="8.7" fill="#b2b5be" text-anchor="start" font-weight="normal" textLength="38.5" lengthAdjust="spacingAndGlyphs" >32000.00</text>
<text x="790.30" y="282.70" font-size="8.7" fill="#b2b5be" text-anchor="start" font-weight="normal" textLength="33.7" lengthAdjust="spacingAndGlyphs" >3650.00</text>
<text x="790.30" y="308.10" font-size="8.7" fill="#b2b5be" text-anchor="start" font-weight="normal" textLength="33.7" lengthAdjust="spacingAndGlyphs" >2650.00</text>
<text x="790.30" y="154.10" font-size="8.7" fill="#b2b5be" text-anchor="start" font-weight="normal" textLength="38.5" lengthAdjust="spacingAndGlyphs" >18000.00</text>
<rect x="783" y="109.2" width="51" height="21.5" fill="#66bb6a" rx="1"/>
<text x="790.30" y="118.20" font-size="8.7" fill="#131722" text-anchor="start" font-weight="normal" textLength="38.5" lengthAdjust="spacingAndGlyphs" >28581.00</text>
<text x="790.30" y="128.80" font-size="8.7" fill="#131722" text-anchor="start" font-weight="normal" >29d 20h</text>
<rect x="783" y="131.1" width="51" height="11.5" fill="#f57f17" rx="1"/>
<text x="790.30" y="140.00" font-size="8.7" fill="#ffffff" text-anchor="start" font-weight="normal" textLength="38.5" lengthAdjust="spacingAndGlyphs" >24665.83</text>
<rect x="783" y="153.3" width="51" height="11.2" fill="#000" rx="1"/>
<text x="790.30" y="162.00" font-size="8.7" fill="#fff" text-anchor="start" font-weight="normal" textLength="38.5" lengthAdjust="spacingAndGlyphs" >16528.00</text>
<rect x="783" y="165.2" width="51" height="11.0" fill="#000" rx="1"/>
<text x="790.30" y="173.80" font-size="8.7" fill="#fff" text-anchor="start" font-weight="normal" textLength="38.5" lengthAdjust="spacingAndGlyphs" >15465.57</text>
<rect x="783" y="188.6" width="51" height="11.7" fill="#000" rx="1"/>
<text x="790.30" y="197.55" font-size="8.7" fill="#fff" text-anchor="start" font-weight="normal" textLength="38.5" lengthAdjust="spacingAndGlyphs" >13880.00</text>
<rect x="783" y="212.4" width="51" height="11.6" fill="#000" rx="1"/>
<text x="790.30" y="221.30" font-size="8.7" fill="#fff" text-anchor="start" font-weight="normal" textLength="38.5" lengthAdjust="spacingAndGlyphs" >10760.10</text>
<text x="790.30" y="185.80" font-size="8.7" fill="#2a2e39" text-anchor="start" font-weight="normal" textLength="38.5" lengthAdjust="spacingAndGlyphs" >15099.95</text>
<text x="790.30" y="209.80" font-size="8.7" fill="#2a2e39" text-anchor="start" font-weight="normal" textLength="38.5" lengthAdjust="spacingAndGlyphs" >13223.74</text>
<text x="790.30" y="233.00" font-size="8.7" fill="#2a2e39" text-anchor="start" font-weight="normal" textLength="38.5" lengthAdjust="spacingAndGlyphs" >10760.00</text>
<rect x="783" y="236.4" width="45" height="23.3" fill="#1b6b2b" rx="1"/>
<text x="789.80" y="245.10" font-size="8.7" fill="#fff" text-anchor="start" font-weight="normal" textLength="33.5" lengthAdjust="spacingAndGlyphs" >6063.23</text>
<text x="789.80" y="256.80" font-size="8.7" fill="#fff" text-anchor="start" font-weight="normal" textLength="33.5" lengthAdjust="spacingAndGlyphs" >6063.00</text>
<rect x="758.4" y="327.4" width="23.6" height="11.3" fill="#e3effd"/>
<rect x="782.6" y="327.4" width="45.4" height="11.3" fill="#e3effd"/>
<text x="762.00" y="336.10" font-size="8.7" fill="#131722" text-anchor="start" font-weight="normal" >Low</text>
<text x="790.30" y="336.10" font-size="8.7" fill="#131722" text-anchor="start" font-weight="normal" textLength="33.7" lengthAdjust="spacingAndGlyphs" >1830.00</text>
<text x="790.30" y="347.90" font-size="8.7" fill="#b2b5be" text-anchor="start" font-weight="normal" textLength="38.5" lengthAdjust="spacingAndGlyphs" >10000.00</text>
<text x="790.30" y="386.50" font-size="8.7" fill="#b2b5be" text-anchor="start" font-weight="normal" >0.00</text>
<clipPath id="mcl"><rect x="783" y="339" width="60" height="85"/></clipPath>
<text x="789.80" y="424.80" font-size="8.7" fill="#b2b5be" text-anchor="start" font-weight="normal" textLength="44.3" lengthAdjust="spacingAndGlyphs" clip-path="url(#mcl)">−10000.00</text>
<text x="790.30" y="442.20" font-size="8.7" fill="#b2b5be" text-anchor="start" font-weight="normal" >75.00</text>
<text x="790.30" y="489.20" font-size="8.7" fill="#b2b5be" text-anchor="start" font-weight="normal" >25.00</text>
<rect x="783" y="456.4" width="34.8" height="11.2" fill="#7e57c2" rx="1"/>
<text x="790.30" y="465.10" font-size="8.7" fill="#fff" text-anchor="start" font-weight="normal" >50.72</text>
<text x="61.00" y="505.80" font-size="8.9" fill="#b8bbc3" text-anchor="middle" font-weight="bold" textLength="21.2" lengthAdjust="spacingAndGlyphs" >2018</text>
<text x="118.30" y="505.80" font-size="8.9" fill="#b8bbc3" text-anchor="middle" font-weight="normal" textLength="12" lengthAdjust="spacingAndGlyphs" >Jul</text>
<text x="175.50" y="505.80" font-size="8.9" fill="#b8bbc3" text-anchor="middle" font-weight="bold" textLength="21.2" lengthAdjust="spacingAndGlyphs" >2019</text>
<text x="232.00" y="505.80" font-size="8.9" fill="#b8bbc3" text-anchor="middle" font-weight="normal" textLength="12" lengthAdjust="spacingAndGlyphs" >Jul</text>
<text x="289.00" y="505.80" font-size="8.9" fill="#b8bbc3" text-anchor="middle" font-weight="bold" textLength="21.2" lengthAdjust="spacingAndGlyphs" >2020</text>
<text x="346.00" y="505.80" font-size="8.9" fill="#b8bbc3" text-anchor="middle" font-weight="normal" textLength="12" lengthAdjust="spacingAndGlyphs" >Jul</text>
<text x="403.00" y="505.80" font-size="8.9" fill="#b8bbc3" text-anchor="middle" font-weight="bold" textLength="21.2" lengthAdjust="spacingAndGlyphs" >2021</text>
<text x="460.30" y="505.80" font-size="8.9" fill="#b8bbc3" text-anchor="middle" font-weight="normal" textLength="12" lengthAdjust="spacingAndGlyphs" >Jul</text>
<text x="517.50" y="505.80" font-size="8.9" fill="#b8bbc3" text-anchor="middle" font-weight="bold" textLength="21.2" lengthAdjust="spacingAndGlyphs" >2022</text>
<text x="574.00" y="505.80" font-size="8.9" fill="#b8bbc3" text-anchor="middle" font-weight="normal" textLength="12" lengthAdjust="spacingAndGlyphs" >Jul</text>
<text x="631.50" y="505.80" font-size="8.9" fill="#b8bbc3" text-anchor="middle" font-weight="bold" textLength="21.2" lengthAdjust="spacingAndGlyphs" >2023</text>
<text x="688.50" y="505.80" font-size="8.9" fill="#b8bbc3" text-anchor="middle" font-weight="normal" textLength="12" lengthAdjust="spacingAndGlyphs" >Jul</text>
<text x="745.50" y="505.80" font-size="8.9" fill="#b8bbc3" text-anchor="middle" font-weight="bold" textLength="21.2" lengthAdjust="spacingAndGlyphs" >2024</text>
<text x="7.00" y="505.60" font-size="8.7" fill="#b8bbc3" text-anchor="start" font-weight="normal" >l</text>
<path d="M6.9,520.9 h6.7 v6.6 h-3.5 v-3.9 h-3.2 z" fill="#131722"/>
<circle cx="15.9" cy="522.1" r="1.15" fill="#131722"/>
<path d="M17.9,520.9 h2.9 l-2.6,6.6 h-3.4 z" fill="#131722"/>
<text x="24.20" y="528.20" font-size="9.8" fill="#131722" text-anchor="start" font-weight="normal" textLength="51" lengthAdjust="spacingAndGlyphs" >TradingView</text></svg>
</body></html>
